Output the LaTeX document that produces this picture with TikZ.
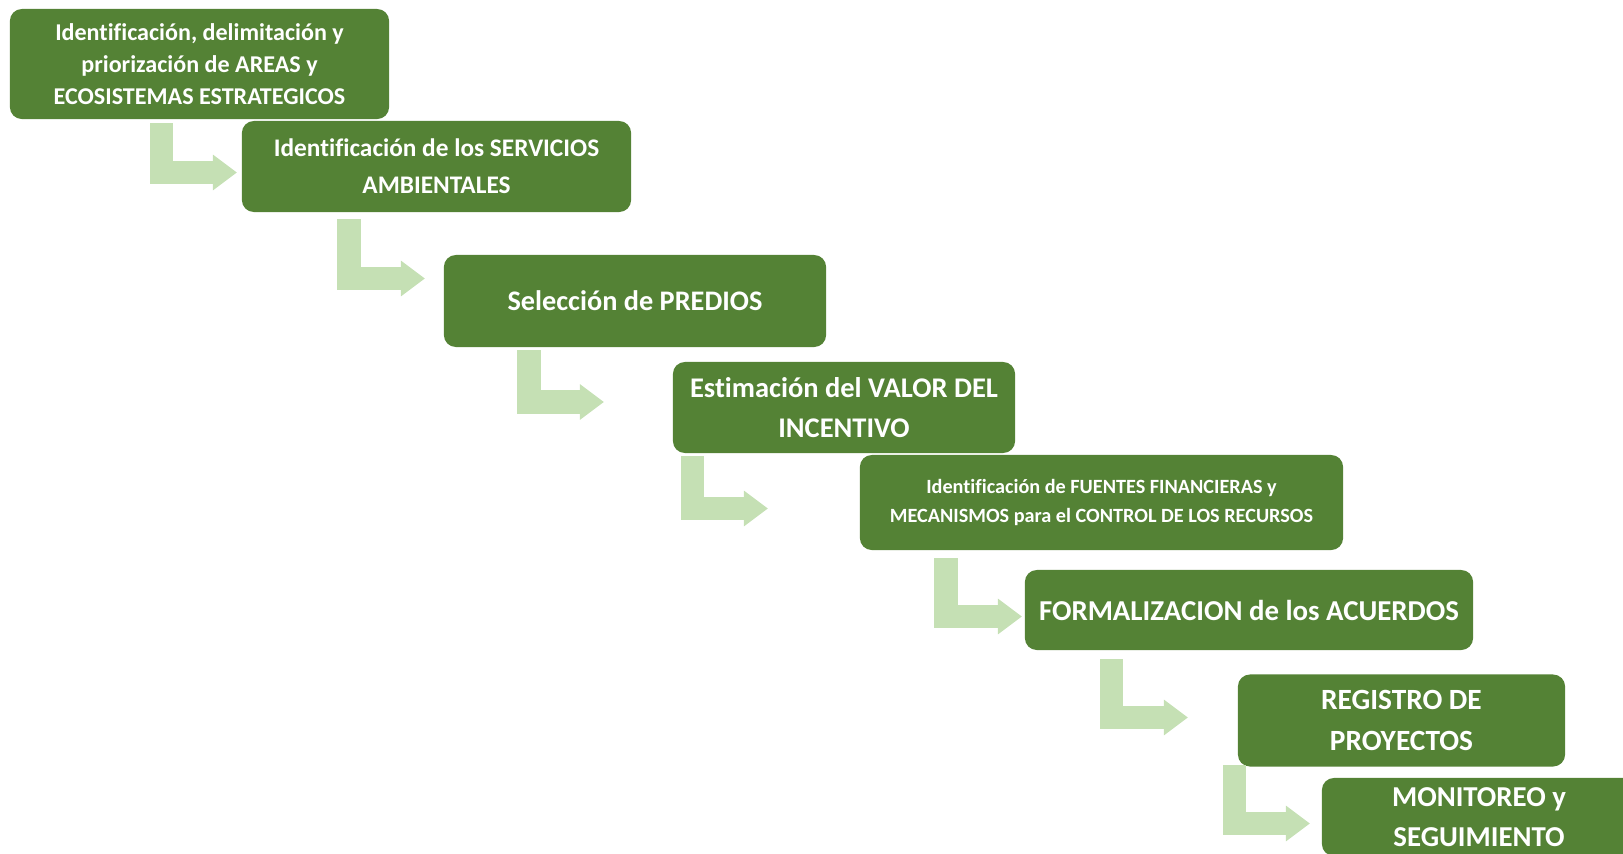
\documentclass[tikz,border=0pt]{standalone}
\usepackage{fontspec}
\setmainfont[Ligatures=NoCommon]{Carlito}
\usetikzlibrary{arrows.meta}
\definecolor{boxgreen}{HTML}{548235}
\definecolor{arrowgreen}{HTML}{C5E0B4}
\tikzset{flowarrow/.style={draw=arrowgreen,line width=0.23cm,-{Triangle[length=0.24cm,width=0.34cm]}}}

\begin{document}
\begin{tikzpicture}[x=0.01cm,y=-0.01cm]
\path[use as bounding box,clip] (0,0) rectangle (1623,854);
\begin{scope}[every node/.style={fill=boxgreen,rounded corners=0.12cm,text=white,align=center,inner sep=0pt}]
\node[minimum width=3.79cm,minimum height=1.10cm,font=\bfseries\fontsize{6.85}{9.1}\selectfont] (A) at (199.5,64) {Identificación, delimitación y\\priorización de AREAS y\\ECOSISTEMAS ESTRATEGICOS};
\node[minimum width=3.89cm,minimum height=0.91cm,font=\bfseries\fontsize{7.2}{10.5}\selectfont] (B) at (436.5,166.5) {Identificación de los SERVICIOS\\AMBIENTALES};
\node[minimum width=3.82cm,minimum height=0.92cm,font=\bfseries\fontsize{8.05}{11}\selectfont] (C) at (635,301) {Selección de PREDIOS};
\node[minimum width=3.42cm,minimum height=0.91cm,font=\bfseries\fontsize{8.1}{11.2}\selectfont] (D) at (844,407.5) {Estimación del VALOR DEL\\INCENTIVO};
\node[minimum width=4.83cm,minimum height=0.95cm,font=\bfseries\fontsize{5.75}{8}\selectfont] (E) at (1101.5,502.5) {Identificación de FUENTES FINANCIERAS y\\MECANISMOS para el CONTROL DE LOS RECURSOS};
\node[minimum width=4.48cm,minimum height=0.80cm,font=\bfseries\fontsize{8.2}{11.4}\selectfont] (F) at (1249,610) {FORMALIZACION de los ACUERDOS};
\node[minimum width=3.27cm,minimum height=0.92cm,font=\bfseries\fontsize{8.35}{11.4}\selectfont] (G) at (1401.5,720.5) {REGISTRO DE\\PROYECTOS};
\node[minimum width=3.14cm,minimum height=0.78cm,font=\bfseries\fontsize{8.2}{11.4}\selectfont] (H) at (1479,817) {MONITOREO y\\SEGUIMIENTO};
\end{scope}
\coordinate (a1) at (161.5,123);
\coordinate (t1) at (237,172.5);
\coordinate (a2) at (349,219);
\coordinate (t2) at (425,278.5);
\coordinate (a3) at (529,350);
\coordinate (t3) at (604,402);
\coordinate (a4) at (692.5,456);
\coordinate (t4) at (768,508.5);
\coordinate (a5) at (946,558);
\coordinate (t5) at (1022,616.5);
\coordinate (a6) at (1111.5,659);
\coordinate (t6) at (1188,717.5);
\coordinate (a7) at (1234,765);
\coordinate (t7) at (1310,823.5);
\draw [flowarrow] (a1) |- (t1);
\draw [flowarrow] (a2) |- (t2);
\draw [flowarrow] (a3) |- (t3);
\draw [flowarrow] (a4) |- (t4);
\draw [flowarrow] (a5) |- (t5);
\draw [flowarrow] (a6) |- (t6);
\draw [flowarrow] (a7) |- (t7);
\end{tikzpicture}
\end{document}
